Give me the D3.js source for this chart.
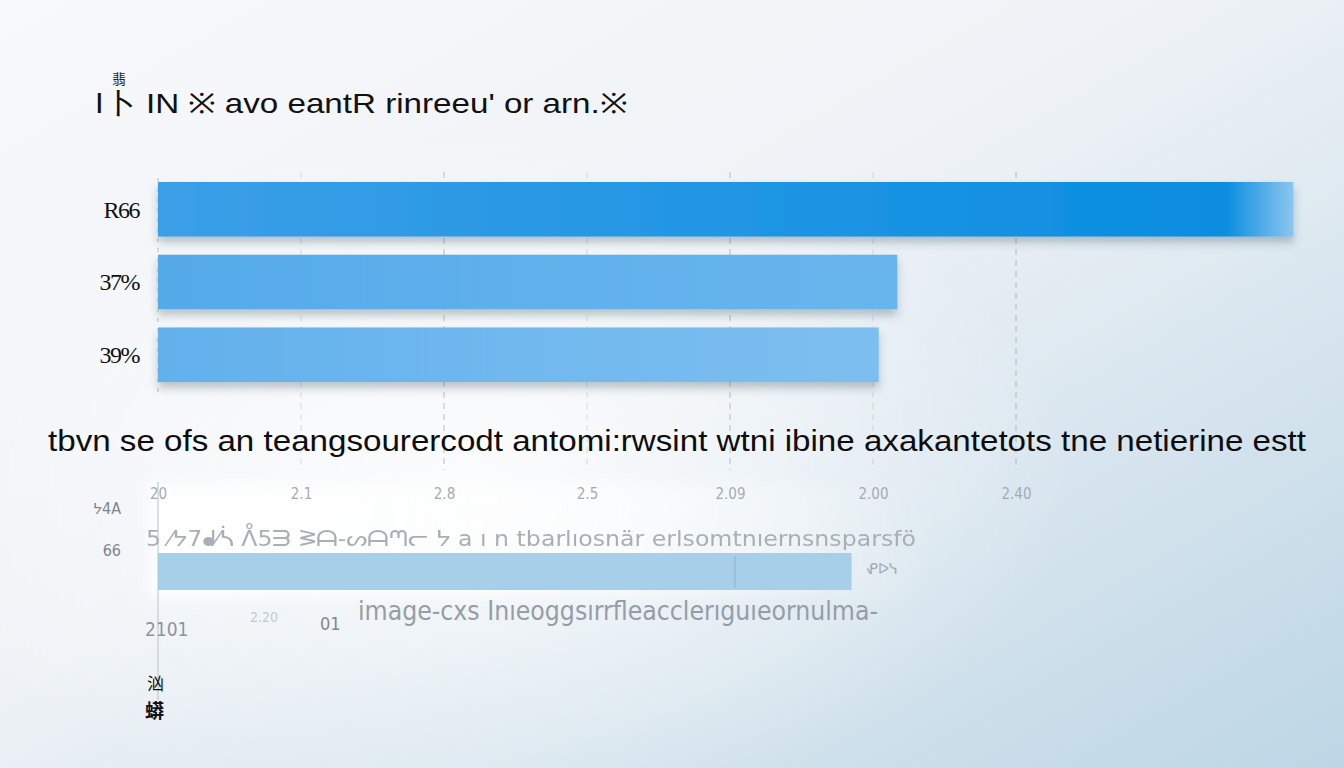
<!DOCTYPE html>
<html>
<head>
<meta charset="utf-8">
<script src="https://cdn.jsdelivr.net/npm/d3@7"></script>
<style>
  html, body { margin: 0; padding: 0; overflow: hidden; }
  body { width: 1344px; height: 768px; }
</style>
</head>
<body>
<div id="chart"></div>
<script>
'use strict';

// top panel
var categories = ['R66', '37%', '39%'];
var values = [79.4, 51.7, 50.4];

// lower panel
var lowerCategories = ['66'];
var lowerValues = [48.5];
var lowerRowLabels = ['ᔭ4A', '66'];
var tickValues = [0, 10, 20, 30, 40, 50, 60];
var tickLabels = ['20', '2.1', '2.8', '2.5', '2.09', '2.00', '2.40'];

var titleText = "ǀ卜 IN ※ avo eantR rinreeu' or arn.※";
var middleText = 'tbvn se  ofs an  teangsourercodt antomi:rwsint wtni ibine axakantetots  tne  netierine estt';
var faintText = '5 ⁄ᔭ7ᖱ⁄ᓵ ᐰ5ᗱ ᕒᗩ-ᔕᗩᘉᓕ ᔭ a ı n tbarlıosnär   erlsomtnıernsnsparsfö';
var captionText = 'image-cxs Inıeoggsırrfleacclerıguıeornulma-';

var width = 1344, height = 768;

var svg = d3.select('#chart').append('svg')
  .attr('width', width)
  .attr('height', height);

var defs = svg.append('defs');

// background
var bg = defs.append('linearGradient').attr('id', 'bg')
  .attr('x1', '0').attr('y1', '0').attr('x2', '1').attr('y2', '1');
bg.append('stop').attr('offset', '0%').attr('stop-color', '#f8f9fb');
bg.append('stop').attr('offset', '45%').attr('stop-color', '#eef2f6');
bg.append('stop').attr('offset', '100%').attr('stop-color', '#bdd6e5');

var glow = defs.append('radialGradient').attr('id', 'glow')
  .attr('cx', '0.35').attr('cy', '0.62').attr('r', '0.45');
glow.append('stop').attr('offset', '0%').attr('stop-color', '#ffffff').attr('stop-opacity', 0.8);
glow.append('stop').attr('offset', '100%').attr('stop-color', '#ffffff').attr('stop-opacity', 0);

var band = defs.append('linearGradient').attr('id', 'band');
band.append('stop').attr('offset', '0%').attr('stop-color', '#ffffff').attr('stop-opacity', 0.95);
band.append('stop').attr('offset', '60%').attr('stop-color', '#ffffff').attr('stop-opacity', 0.6);
band.append('stop').attr('offset', '100%').attr('stop-color', '#ffffff').attr('stop-opacity', 0);

var barFills = [['#3b9fe7', '#0a8de0'], ['#55aaea', '#68b5ee'], ['#62b1ec', '#7cbef0']];
barFills.forEach(function (c, i) {
  var g = defs.append('linearGradient').attr('id', 'bar' + i);
  g.append('stop').attr('offset', '0%').attr('stop-color', c[0]);
  g.append('stop').attr('offset', '94%').attr('stop-color', c[1]);
  g.append('stop').attr('offset', '100%').attr('stop-color', i === 0 ? '#8ac6ee' : c[1]);
});

var shadow = defs.append('filter').attr('id', 'shadow')
  .attr('x', '-5%').attr('y', '-20%').attr('width', '110%').attr('height', '160%');
shadow.append('feDropShadow').attr('dx', 0).attr('dy', 6).attr('stdDeviation', 4)
  .attr('flood-color', '#345').attr('flood-opacity', 0.3);

var soft = defs.append('filter').attr('id', 'soft');
soft.append('feGaussianBlur').attr('stdDeviation', 0.4);

var blur = defs.append('filter').attr('id', 'blur')
  .attr('x', '-10%').attr('y', '-30%').attr('width', '120%').attr('height', '160%');
blur.append('feGaussianBlur').attr('stdDeviation', 8);

svg.append('rect').attr('width', width).attr('height', height).attr('fill', 'url(#bg)');
svg.append('rect').attr('width', width).attr('height', height).attr('fill', 'url(#glow)');

// scales
var x = d3.scaleLinear().domain([0, 80]).range([158, 1302]);

var y = d3.scaleBand()
  .domain(categories)
  .range([182, 382])
  .paddingInner(0.25)
  .paddingOuter(0);

// title
svg.append('text')
  .attr('x', 95).attr('y', 113)
  .attr('font-family', 'Liberation Sans, Arial, sans-serif')
  .attr('font-size', 28)
  .attr('textLength', 532)
  .attr('lengthAdjust', 'spacingAndGlyphs')
  .attr('fill', '#111')
  .text(titleText);

svg.append('text')
  .attr('x', 112).attr('y', 84)
  .attr('font-family', 'Noto Sans CJK SC')
  .attr('font-size', 14)
  .attr('fill', '#222')
  .text('翡');

// gridlines
svg.append('g')
  .selectAll('line')
  .data(x.ticks(8).filter(function (d) { return d > 0 && d <= 60; }))
  .enter()
  .append('line')
  .attr('x1', function (d) { return x(d); })
  .attr('x2', function (d) { return x(d); })
  .attr('y1', 172)
  .attr('y2', 470)
  .attr('stroke', '#8a97a3')
  .attr('stroke-width', 1)
  .attr('stroke-dasharray', '6,5')
  .attr('opacity', function (d) { return d % 20 === 0 ? 0.6 : 0.3; });

svg.append('line')
  .attr('x1', x(0)).attr('x2', x(0))
  .attr('y1', 178).attr('y2', 392)
  .attr('stroke', '#c9b9a5')
  .attr('stroke-dasharray', '4,6');

// top bars
svg.append('g')
  .selectAll('rect')
  .data(values)
  .enter()
  .append('rect')
  .attr('x', x(0))
  .attr('y', function (d, i) { return y(categories[i]); })
  .attr('width', function (d) { return x(d) - x(0); })
  .attr('height', y.bandwidth())
  .attr('fill', function (d, i) { return 'url(#bar' + i + ')'; })
  .attr('filter', 'url(#shadow)');

// category labels
svg.append('g')
  .selectAll('text')
  .data(categories)
  .enter()
  .append('text')
  .attr('x', 139)
  .attr('y', function (d) { return y(d) + y.bandwidth() / 2; })
  .attr('dy', '0.35em')
  .attr('text-anchor', 'end')
  .attr('font-family', 'Liberation Serif, serif')
  .attr('font-size', 24)
  .attr('letter-spacing', -1.5)
  .attr('fill', '#111')
  .text(function (d) { return d; });

// middle line of text
svg.append('text')
  .attr('x', 48).attr('y', 451)
  .attr('font-family', 'Liberation Sans, Arial, sans-serif')
  .attr('font-size', 30)
  .attr('textLength', 1258)
  .attr('lengthAdjust', 'spacingAndGlyphs')
  .attr('fill', '#0d0d0d')
  .text(middleText);

// lower panel
var lower = svg.append('g');

lower.append('rect')
  .attr('x', 150).attr('y', 484)
  .attr('width', 780).attr('height', 112)
  .attr('fill', 'url(#band)')
  .attr('filter', 'url(#blur)');

lower.append('line')
  .attr('x1', x(0)).attr('x2', x(0))
  .attr('y1', 482).attr('y2', 700)
  .attr('stroke', '#b8c2ca');

var xAxis = d3.axisTop(x)
  .tickValues(tickValues)
  .tickSize(0)
  .tickFormat(function (d, i) { return tickLabels[i]; });

lower.append('g')
  .attr('transform', 'translate(0,502)')
  .call(xAxis)
  .call(function (g) { g.select('.domain').remove(); })
  .selectAll('text')
  .attr('font-family', 'DejaVu Sans Condensed, sans-serif')
  .attr('font-size', 15)
  .attr('fill', '#a4acb2');

var ly = d3.scaleBand()
  .domain(lowerCategories)
  .range([553, 590]);

lower.append('g')
  .selectAll('rect')
  .data(lowerValues)
  .enter()
  .append('rect')
  .attr('x', x(0))
  .attr('y', function (d, i) { return ly(lowerCategories[i]); })
  .attr('width', function (d) { return x(d) - x(0); })
  .attr('height', ly.bandwidth())
  .attr('fill', '#a7cfea');

lower.append('line')
  .attr('x1', 735).attr('x2', 735)
  .attr('y1', 556).attr('y2', 588)
  .attr('stroke', '#8fb2c8');

var rowY = d3.scalePoint().domain(lowerRowLabels).range([514, 556]);

lower.append('g')
  .selectAll('text')
  .data(lowerRowLabels)
  .enter()
  .append('text')
  .attr('x', 121)
  .attr('y', function (d) { return rowY(d); })
  .attr('text-anchor', 'end')
  .attr('font-family', 'DejaVu Sans Condensed, sans-serif')
  .attr('font-size', 16)
  .attr('fill', '#7d868d')
  .text(function (d) { return d; });

lower.append('text')
  .attr('x', 146).attr('y', 546)
  .attr('font-family', 'DejaVu Sans Condensed, sans-serif')
  .attr('font-size', 22)
  .attr('font-weight', 200)
  .attr('textLength', 770)
  .attr('lengthAdjust', 'spacingAndGlyphs')
  .attr('fill', '#a9b0b5')
  .attr('filter', 'url(#soft)')
  .text(faintText);

lower.append('text')
  .attr('x', 866).attr('y', 574)
  .attr('font-family', 'DejaVu Sans Condensed, sans-serif')
  .attr('font-size', 16)
  .attr('fill', '#a3abb1')
  .text('ᕵᐅᓭ');

lower.append('text')
  .attr('x', 358).attr('y', 620)
  .attr('font-family', 'DejaVu Sans Condensed, sans-serif')
  .attr('font-size', 26)
  .attr('font-weight', 200)
  .attr('textLength', 520)
  .attr('lengthAdjust', 'spacingAndGlyphs')
  .attr('fill', '#959ea5')
  .text(captionText);

lower.append('text')
  .attr('x', 145).attr('y', 636)
  .attr('font-family', 'DejaVu Sans Condensed, sans-serif')
  .attr('font-size', 19)
  .attr('fill', '#8c959c')
  .text('2101');

lower.append('text')
  .attr('x', 250).attr('y', 622)
  .attr('font-family', 'DejaVu Sans Condensed, sans-serif')
  .attr('font-size', 14)
  .attr('fill', '#c4cbd0')
  .text('2.20');

lower.append('text')
  .attr('x', 320).attr('y', 630)
  .attr('font-family', 'DejaVu Sans Condensed, sans-serif')
  .attr('font-size', 18)
  .attr('fill', '#7f888f')
  .text('01');

lower.append('text')
  .attr('x', 147).attr('y', 690)
  .attr('font-family', 'Noto Sans CJK SC')
  .attr('font-size', 17)
  .attr('fill', '#111')
  .text('汹');

lower.append('text')
  .attr('x', 145).attr('y', 718)
  .attr('font-family', 'Noto Sans CJK SC')
  .attr('font-size', 19)
  .attr('font-weight', 700)
  .attr('fill', '#111')
  .text('蟒');
</script>
</body>
</html>
